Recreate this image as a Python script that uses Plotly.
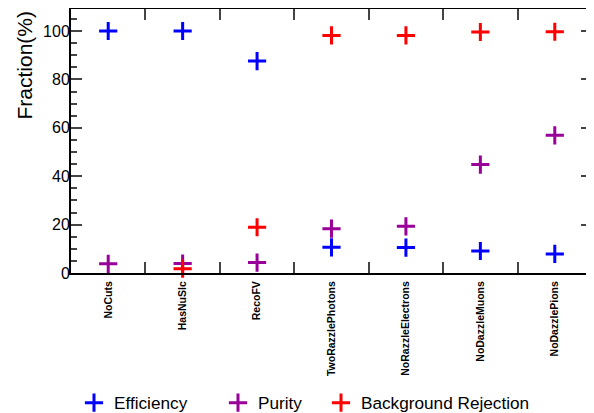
import plotly.graph_objects as go

categories = ["NoCuts", "HasNuSlc", "RecoFV", "TwoRazzlePhotons",
              "NoRazzleElectrons", "NoDazzleMuons", "NoDazzlePions"]
efficiency = [100, 100, 87.6, 10.6, 10.5, 9.1, 7.9]
purity = [3.8, 3.9, 4.3, 18.3, 19.3, 44.8, 56.9]
bkg_rejection = [None, 1.8, 18.9, 98.2, 98.2, 99.6, 99.7]

series = [("Efficiency", efficiency, "#0000ff", "legend", 93),
          ("Purity", purity, "#990099", "legend2", 237),
          ("Background Rejection", bkg_rejection, "#ff0000", "legend3", 340)]

OFF = 8  # page body margin
W, H = 594 - OFF, 413 - OFF
L, R, T, B = 71 - OFF, 2, 1, 140
PW, PH = W - L - R, H - T - B
fig = go.Figure()
legends = {}
for name, vals, col, leg, mx in series:
    fig.add_trace(go.Scatter(
        x=categories, y=vals, mode="markers", name=name, legend=leg,
        marker=dict(symbol="cross-thin", size=13, line=dict(color=col, width=3), color=col),
        cliponaxis=False,
    ))
    legends[leg] = dict(x=(mx - OFF - 19 - L) / PW, xanchor="left",
                        y=(H - B - (403 - OFF)) / PH, yanchor="middle", orientation="h",
                        font=dict(size=17.2), bgcolor="rgba(0,0,0,0)")

fig.update_layout(
    width=W, height=H,
    margin=dict(l=L, r=R, t=T, b=B, autoexpand=False),
    paper_bgcolor="white", plot_bgcolor="white",
    font=dict(family="Liberation Sans, Arial, sans-serif", color="black"),
    showlegend=True,
    xaxis=dict(
        type="category", tickson="boundaries", ticks="inside", ticklen=11,
        tickcolor="#444", tickwidth=1.5, automargin=False,
        showline=True, linecolor="black", linewidth=2, mirror="ticks",
        tickangle=-90, tickfont=dict(size=10.5, family="Liberation Sans, Arial, sans-serif", weight="bold"),
        ticklabelstandoff=2,
        showgrid=False, range=[-0.5, 6.5],
    ),
    yaxis=dict(
        range=[0, 109.1], tickvals=[0, 20, 40, 60, 80, 100], ticks="inside", ticklen=11,
        tickcolor="#444", tickwidth=1.5, automargin=False,
        minor=dict(dtick=5, ticks="inside", ticklen=6, tickcolor="#444"),
        showline=True, linecolor="black", linewidth=2, mirror="ticks",
        showgrid=False, zeroline=False, tickfont=dict(size=16),
        ticklabelstandoff=-4,
    ),
    annotations=[dict(
        text="Fraction(%)", xref="paper", yref="paper", x=0, y=1,
        xshift=-(71 - 24), xanchor="center", yanchor="top", textangle=-90,
        showarrow=False, font=dict(size=21),
    )],
    **legends,
)

fig.write_html("out.html")
